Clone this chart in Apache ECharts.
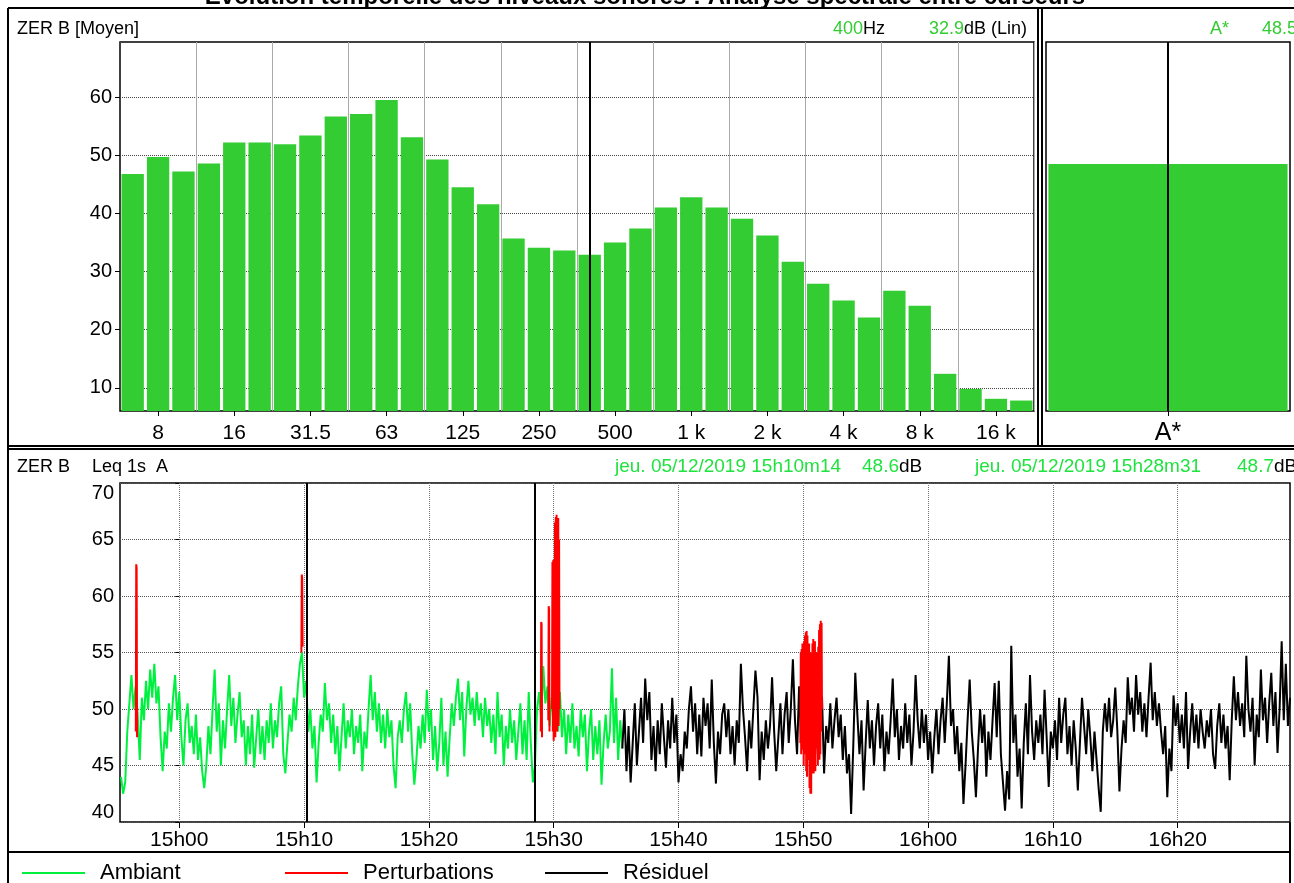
<!DOCTYPE html>
<html>
<head>
<meta charset="utf-8">
<script src="https://cdn.jsdelivr.net/npm/echarts@6/dist/echarts.min.js"></script>
<style>
html, body { margin: 0; padding: 0; background: #fff; }
#main { width: 1294px; height: 883px; }
</style>
</head>
<body>
<div id="main"></div>
<script>
// spectre 1/3 d'octave entre curseurs
var bandLabels = ['6.3','8','10','12.5','16','20','25','31.5','40','50','63','80','100','125','160','200','250','315','400','500','630','800','1 k','1.25 k','1.6 k','2 k','2.5 k','3.15 k','4 k','5 k','6.3 k','8 k','10 k','12.5 k','16 k','20 k'];
var spectrum = [46.8, 49.7, 47.2, 48.6, 52.2, 52.2, 51.9, 53.4, 56.7, 57.1, 59.5, 53.1, 49.3, 44.5, 41.6, 35.7, 34.1, 33.6, 32.9, 35.0, 37.4, 41.0, 42.8, 41.0, 39.1, 36.2, 31.7, 27.9, 25.0, 22.1, 26.7, 24.1, 12.4, 9.8, 8.1, 7.8];
var globalLabel = ['A*'];
var globalValue = [48.5];

// evolution temporelle Leq, un point toutes les 10 s
var stepSec = 10;
var ambiantStart = '14:55:20';
var ambiant = [
  44, 42.5, 43.5, 48, 50.5, 53, 50, 52, 49.5, 45.5, 51, 49, 52.5, 50, 53.5, 51, 54, 50.5, 52, 47.5,
  44.5, 48, 46.5, 50.5, 48, 51, 53, 49, 51.5, 47.5, 45, 49, 50.5, 47, 48.5, 46, 49.5, 45.5, 47.5, 44.5,
  43, 45, 48.5, 46, 50, 53.5, 48, 50.5, 45, 49, 46.5, 50, 53, 48.5, 51, 47, 49.5, 51.5, 47.5, 49,
  45, 48.5, 46, 49.5, 44.8, 47.5, 50, 46, 48.5, 45.5, 49, 47, 50.5, 46.5, 49, 47.5, 50.5, 52, 46, 44.3,
  47, 49.5, 48, 51, 49, 52, 54, 55, 51, 52.5, 48, 50, 46.5, 48.5, 43.5, 47, 49.5, 48, 52.3, 49,
  50.5, 47, 49.5, 46, 48.5, 44.5, 47.5, 50.5, 46.5, 49, 47.5, 50, 46, 48.5, 47, 49.5, 44.5, 48, 46.5, 50,
  53, 49, 51.5, 48, 50.5, 47, 49.5, 46.5, 50, 47.5, 49, 45, 43, 47.5, 49, 47, 50, 51.5, 48, 50.5,
  46, 43.3, 45.5, 48.5, 46.5, 49.5, 47, 51.7, 48, 50, 45.5, 48.5, 44.5, 47, 51, 45, 48, 44, 47.5, 50.5,
  48.5, 51, 52.7, 49, 51.5, 45.8, 50, 52.5, 49.5, 51, 48.5, 51.5, 49, 50.5, 47.5, 51, 48.5, 50, 47, 49.5,
  46, 51.5, 47.5, 49.5, 45, 48.5, 46.5, 50, 47, 49, 45.5, 48, 50.5, 46, 49, 45.5, 51.5, 47, 43.5, 45,
  50, 51.5, 49, 53.8, 50.5, 52, 48.5, 51, 49, 50.5, 48, 51.5, 47.5, 50, 46, 49.5, 47, 50.5, 46.5, 48.5,
  45.8, 50, 47.5, 49.5, 44.5, 48, 50, 45.5, 48.5, 46, 49, 43.3, 47, 49.5, 46.5, 48, 53.6, 47, 51, 45.5,
  49, 46.5
];
var residuelStart = '15:35:30';
var residuel = [
  46.5, 50, 44.5, 48.5, 43.5, 47, 50.5, 45, 48, 51, 47, 52.7, 49, 51.5, 45.5, 48.5, 44.5, 49, 46, 50.5,
  47.5, 44.8, 49, 46.5, 51, 47, 49.5, 43.5, 46, 44.5, 48, 46.5, 50, 52, 48, 50.5, 46, 49.5, 45.8, 51,
  48.5, 50.5, 46.5, 52.6, 47, 43.4, 48, 46, 49.5, 50.5, 47.5, 50, 46, 48.5, 45, 49, 47, 54, 50, 47.5,
  44.5, 49, 46.5, 50, 53.4, 51, 43.7, 48, 45.5, 49, 46.5, 48.5, 52.8, 48, 44.5, 47.5, 50.5, 46, 49.5, 51.5,
  47, 50, 54.4, 49, 46, 52, 47, 49.5, 46.5, 50, 45.5, 48.5, 47, 50, 46, 49, 51.1, 44.3, 48.5, 47,
  50.5, 46.5, 49, 51, 47.5, 49.5, 45.5, 48.5, 44.3, 46, 40.7, 46.5, 53.2, 49.5, 46, 49, 42.8, 47, 50.8, 46.5,
  49, 45, 48.5, 50.5, 46.5, 49.5, 44.5, 48, 46, 49, 52.7, 47.5, 50, 45.5, 48.5, 46.5, 50.5, 47, 49.5, 45,
  48, 53, 49, 46.5, 50, 47, 49.5, 45.5, 48, 44.3, 47.5, 50, 46, 49, 51, 47, 50.5, 54.7, 48.5, 50,
  46, 48.5, 44.5, 47, 41.6, 45, 49, 52.6, 48, 45.5, 42.2, 46.5, 50, 47, 49.5, 44, 48, 45.5, 49, 52.3,
  47.5, 52.5, 46, 43.5, 41, 44.5, 42, 55.6, 47, 49.5, 44, 46.5, 41.2, 47, 50.5, 46, 53, 48, 45.5, 49,
  47, 49.5, 46, 51.7, 47.5, 43.1, 48, 46.5, 49, 45.5, 51, 47, 49.5, 51, 46, 48.5, 45, 49, 46.5, 42.8,
  47, 51, 48.5, 46, 50, 47.5, 44.5, 48, 45.5, 43, 40.9, 48, 50.5, 48, 51, 47.5, 49, 51.9, 48, 42.7,
  46.5, 49, 47, 52.8, 49.5, 51, 48, 53, 49.5, 51.5, 48, 50.5, 47.5, 51, 54.1, 49, 51.5, 48.5, 50.5, 48,
  46, 48.5, 42.2, 46.5, 44.5, 51.2, 48.5, 50.5, 47, 49.5, 46.5, 51.5, 44.7, 48, 50.5, 47, 49.5, 46.5, 50, 48,
  46.5, 49, 47.5, 50, 46, 44.7, 48.5, 50.5, 47, 49.5, 46.5, 48.5, 43.7, 49, 52.9, 49, 51.5, 48.5, 50.5, 47.5,
  54.7, 50, 48, 51, 45, 49.5, 47.5, 53.5, 49, 51, 47, 50.5, 53.2, 48.5, 51.5, 46.1, 50, 56, 49, 54,
  48.5, 51
];
// perturbations : une salve par debut, un point toutes les 2 s
var perturbStep = 2;
var perturbStarts = ['14:56:31', '15:09:47', '15:28:58', '15:29:34', '15:29:52', '15:49:46'];
var perturbBursts = [
  [48, 62.8, 62.5, 47.5],
  [55, 61.9, 61.6, 55.5],
  [48, 57.7, 57.5, 47.5],
  [49, 59.1, 58.8, 48],
  [50, 63, 48, 63.2, 47.2, 62.5, 49, 66.5, 47.5, 67, 50, 67.2, 48, 66.8, 49, 66.9, 48.5, 65, 50],
  [47, 55, 46, 55.3, 46.4, 55.8, 47.5, 54.5, 45, 56, 47, 56.5, 46, 56.8, 44.5, 56.9, 44, 56.5, 45.5, 55.5,
   47, 55.8, 43, 54, 42.5, 55, 42.5, 54.5, 45, 55.8, 44.3, 56.2, 44.3, 55.5, 46, 56, 44.5, 54, 46.5, 55,
   46.7, 53.5, 45, 55.5, 47, 57, 45.5, 57.5, 46, 57.8, 48, 57.6, 50]
];
var cursorTimes = ['15:10:14', '15:28:31'];
var timeMin = '14:55:15';
var timeMax = '16:29:00';
var timeTicks = ['15:00:00', '15:10:00', '15:20:00', '15:30:00', '15:40:00', '15:50:00', '16:00:00', '16:10:00', '16:20:00'];

var FONT = '"Liberation Sans", Arial, sans-serif';
var GREEN = '#33cc33';
var LGREEN = '#1fe33f';

// secondes depuis 15h00
function sec(hms) {
    var p = hms.split(':').map(Number);
    return (p[0] - 15) * 3600 + p[1] * 60 + p[2];
}
function toSeries(start, values, step) {
    var t0 = sec(start);
    return values.map(function (v, i) { return [t0 + i * step, v]; });
}
var perturbData = [];
perturbStarts.forEach(function (s, k) {
    var pts = toSeries(s, perturbBursts[k], perturbStep);
    perturbData = perturbData.concat(pts);
    perturbData.push([pts[pts.length - 1][0] + 1, null]);
});

function pad(n) { return n < 10 ? '0' + n : '' + n; }

function legendFor(name, left) {
    return {
        data: [name], left: left, top: 857,
        icon: 'rect', itemWidth: 63, itemHeight: 2, itemGap: 0,
        selectedMode: false,
        textStyle: { fontSize: 22, color: '#000', fontFamily: FONT, padding: [0, 0, 0, 10] }
    };
}

var myChart = echarts.init(document.getElementById('main'));

var option = {
    animation: false,
    backgroundColor: '#fff',
    textStyle: { fontFamily: FONT },
    grid: [
        { left: 120, top: 42, width: 914, height: 369, show: true, borderColor: '#000', borderWidth: 1.5 },
        { left: 1046, top: 42, width: 244, height: 369, show: true, borderColor: '#000', borderWidth: 1.5 },
        { left: 120, top: 483, width: 1170, height: 339, show: true, borderColor: '#000', borderWidth: 1.5 }
    ],
    legend: [
        legendFor('Ambiant', 17),
        legendFor('Perturbations', 280),
        legendFor('Résiduel', 540)
    ],
    xAxis: [
        {
            type: 'category', gridIndex: 0, data: bandLabels, boundaryGap: true,
            axisLine: { show: false },
            axisTick: { show: true, alignWithLabel: true, length: 5, lineStyle: { color: '#000' },
                interval: function (i) { return i % 3 === 1; } },
            axisLabel: { fontSize: 21, color: '#000', margin: 12,
                interval: function (i) { return i % 3 === 1; } },
            splitLine: { show: true, lineStyle: { color: '#aaa', width: 1 },
                interval: function (i) { return i > 0 && i % 3 === 0; } }
        },
        {
            type: 'category', gridIndex: 1, data: globalLabel,
            axisLine: { show: false },
            axisTick: { show: true, alignWithLabel: true, length: 5, lineStyle: { color: '#000' } },
            axisLabel: { fontSize: 25, color: '#000', margin: 10 },
            splitLine: { show: false }
        },
        {
            type: 'value', gridIndex: 2, min: sec(timeMin), max: sec(timeMax),
            axisLine: { show: false },
            axisTick: { show: true, length: 6, lineStyle: { color: '#000' },
                customValues: timeTicks.map(sec) },
            axisLabel: {
                fontSize: 21, color: '#000', margin: 8,
                customValues: timeTicks.map(sec),
                formatter: function (val) {
                    var m = Math.round(val / 60) + 15 * 60;
                    return Math.floor(m / 60) + 'h' + pad(m % 60);
                }
            },
            splitLine: { show: true, lineStyle: { color: '#777', width: 1, type: 'dotted' } }
        }
    ],
    yAxis: [
        {
            type: 'value', gridIndex: 0, min: 6, max: 69.5,
            axisLine: { show: false },
            axisTick: { show: true, length: 5, lineStyle: { color: '#000' } },
            axisLabel: { fontSize: 20, color: '#000', margin: 8, showMinLabel: false, showMaxLabel: false },
            splitLine: { show: true, lineStyle: { color: '#444', width: 1, type: 'dotted' } }
        },
        {
            type: 'value', gridIndex: 1, min: 6, max: 69.5,
            axisLine: { show: false }, axisTick: { show: false }, axisLabel: { show: false },
            splitLine: { show: false }
        },
        {
            type: 'value', gridIndex: 2, min: 40, max: 70, interval: 5,
            axisLine: { show: false },
            axisTick: { show: true, length: 4, lineStyle: { color: '#000' } },
            axisLabel: { fontSize: 20, color: '#000', margin: 6,
                verticalAlignMinLabel: 'bottom', verticalAlignMaxLabel: 'top' },
            splitLine: { show: true, lineStyle: { color: '#555', width: 1, type: 'dotted' } }
        }
    ],
    series: [
        {
            name: 'Spectre', type: 'bar', xAxisIndex: 0, yAxisIndex: 0,
            data: spectrum, barCategoryGap: '12%',
            itemStyle: { color: GREEN },
            markLine: {
                silent: true, symbol: 'none', label: { show: false },
                lineStyle: { color: '#000', width: 2, type: 'solid' },
                data: [{ xAxis: '400' }]
            }
        },
        {
            name: 'Global', type: 'bar', xAxisIndex: 1, yAxisIndex: 1,
            data: globalValue, barCategoryGap: '2%',
            itemStyle: { color: GREEN },
            markLine: {
                silent: true, symbol: 'none', label: { show: false },
                lineStyle: { color: '#000', width: 2, type: 'solid' },
                data: [{ xAxis: 'A*' }]
            }
        },
        {
            name: 'Ambiant', type: 'line', xAxisIndex: 2, yAxisIndex: 2,
            data: toSeries(ambiantStart, ambiant, stepSec),
            showSymbol: false, color: '#00f040',
            lineStyle: { color: '#00f040', width: 2 },
            markLine: {
                silent: true, symbol: 'none', label: { show: false },
                lineStyle: { color: '#000', width: 2, type: 'solid' },
                data: cursorTimes.map(function (t) { return { xAxis: sec(t) }; })
            }
        },
        {
            name: 'Résiduel', type: 'line', xAxisIndex: 2, yAxisIndex: 2,
            data: toSeries(residuelStart, residuel, stepSec),
            showSymbol: false, color: '#000',
            lineStyle: { color: '#000', width: 2 }
        },
        {
            name: 'Perturbations', type: 'line', xAxisIndex: 2, yAxisIndex: 2,
            data: perturbData, connectNulls: false,
            showSymbol: false, color: '#ff0000',
            lineStyle: { color: '#ff0000', width: 2 }
        }
    ],
    graphic: [
        // titre (coupé en haut)
        { type: 'text', x: 645, y: 9, style: { text: 'Evolution temporelle des niveaux sonores : Analyse spectrale entre curseurs',
            font: 'bold 24px ' + FONT, fill: '#000', align: 'center', verticalAlign: 'bottom' } },
        // cadres
        { type: 'line', shape: { x1: 8, y1: 8, x2: 1294, y2: 8 }, style: { stroke: '#000', lineWidth: 2 } },
        { type: 'line', shape: { x1: 8, y1: 8, x2: 8, y2: 883 }, style: { stroke: '#000', lineWidth: 2 } },
        { type: 'line', shape: { x1: 1038, y1: 8, x2: 1038, y2: 446 }, style: { stroke: '#000', lineWidth: 2 } },
        { type: 'line', shape: { x1: 1042, y1: 8, x2: 1042, y2: 446 }, style: { stroke: '#000', lineWidth: 2 } },
        { type: 'line', shape: { x1: 8, y1: 446, x2: 1294, y2: 446 }, style: { stroke: '#000', lineWidth: 2 } },
        { type: 'line', shape: { x1: 8, y1: 449, x2: 1294, y2: 449 }, style: { stroke: '#000', lineWidth: 2 } },
        { type: 'line', shape: { x1: 8, y1: 852, x2: 1290, y2: 852 }, style: { stroke: '#000', lineWidth: 2 } },
        { type: 'line', shape: { x1: 1290, y1: 822, x2: 1290, y2: 883 }, style: { stroke: '#000', lineWidth: 2 } },
        // en-têtes haut
        { type: 'text', x: 17, y: 29, style: { text: 'ZER B [Moyen]', font: '18px ' + FONT, fill: '#000', verticalAlign: 'middle' } },
        { type: 'text', x: 885, y: 29, style: { text: '{g|400}Hz', font: '18px ' + FONT, fill: '#000', align: 'right', verticalAlign: 'middle',
            rich: { g: { fill: GREEN, font: '18px ' + FONT } } } },
        { type: 'text', x: 1027, y: 29, style: { text: '{g|32.9}dB (Lin)', font: '18px ' + FONT, fill: '#000', align: 'right', verticalAlign: 'middle',
            rich: { g: { fill: GREEN, font: '18px ' + FONT } } } },
        { type: 'text', x: 1229, y: 29, style: { text: 'A*', font: '18px ' + FONT, fill: GREEN, align: 'right', verticalAlign: 'middle' } },
        { type: 'text', x: 1262, y: 29, style: { text: '48.5', font: '18px ' + FONT, fill: GREEN, verticalAlign: 'middle' } },
        // en-têtes bas
        { type: 'text', x: 17, y: 467, style: { text: 'ZER B', font: '18px ' + FONT, fill: '#000', verticalAlign: 'middle' } },
        { type: 'text', x: 92, y: 467, style: { text: 'Leq 1s  A', font: '18px ' + FONT, fill: '#000', verticalAlign: 'middle' } },
        { type: 'text', x: 615, y: 467, style: { text: 'jeu. 05/12/2019 15h10m14', font: '19px ' + FONT, fill: LGREEN, verticalAlign: 'middle' } },
        { type: 'text', x: 862, y: 467, style: { text: '48.6{k|dB}', font: '19px ' + FONT, fill: LGREEN, verticalAlign: 'middle',
            rich: { k: { fill: '#000', font: '19px ' + FONT } } } },
        { type: 'text', x: 975, y: 467, style: { text: 'jeu. 05/12/2019 15h28m31', font: '19px ' + FONT, fill: LGREEN, verticalAlign: 'middle' } },
        { type: 'text', x: 1237, y: 467, style: { text: '48.7{k|dB}', font: '19px ' + FONT, fill: LGREEN, verticalAlign: 'middle',
            rich: { k: { fill: '#000', font: '19px ' + FONT } } } }
    ]
};

myChart.setOption(option);
</script>
</body>
</html>
